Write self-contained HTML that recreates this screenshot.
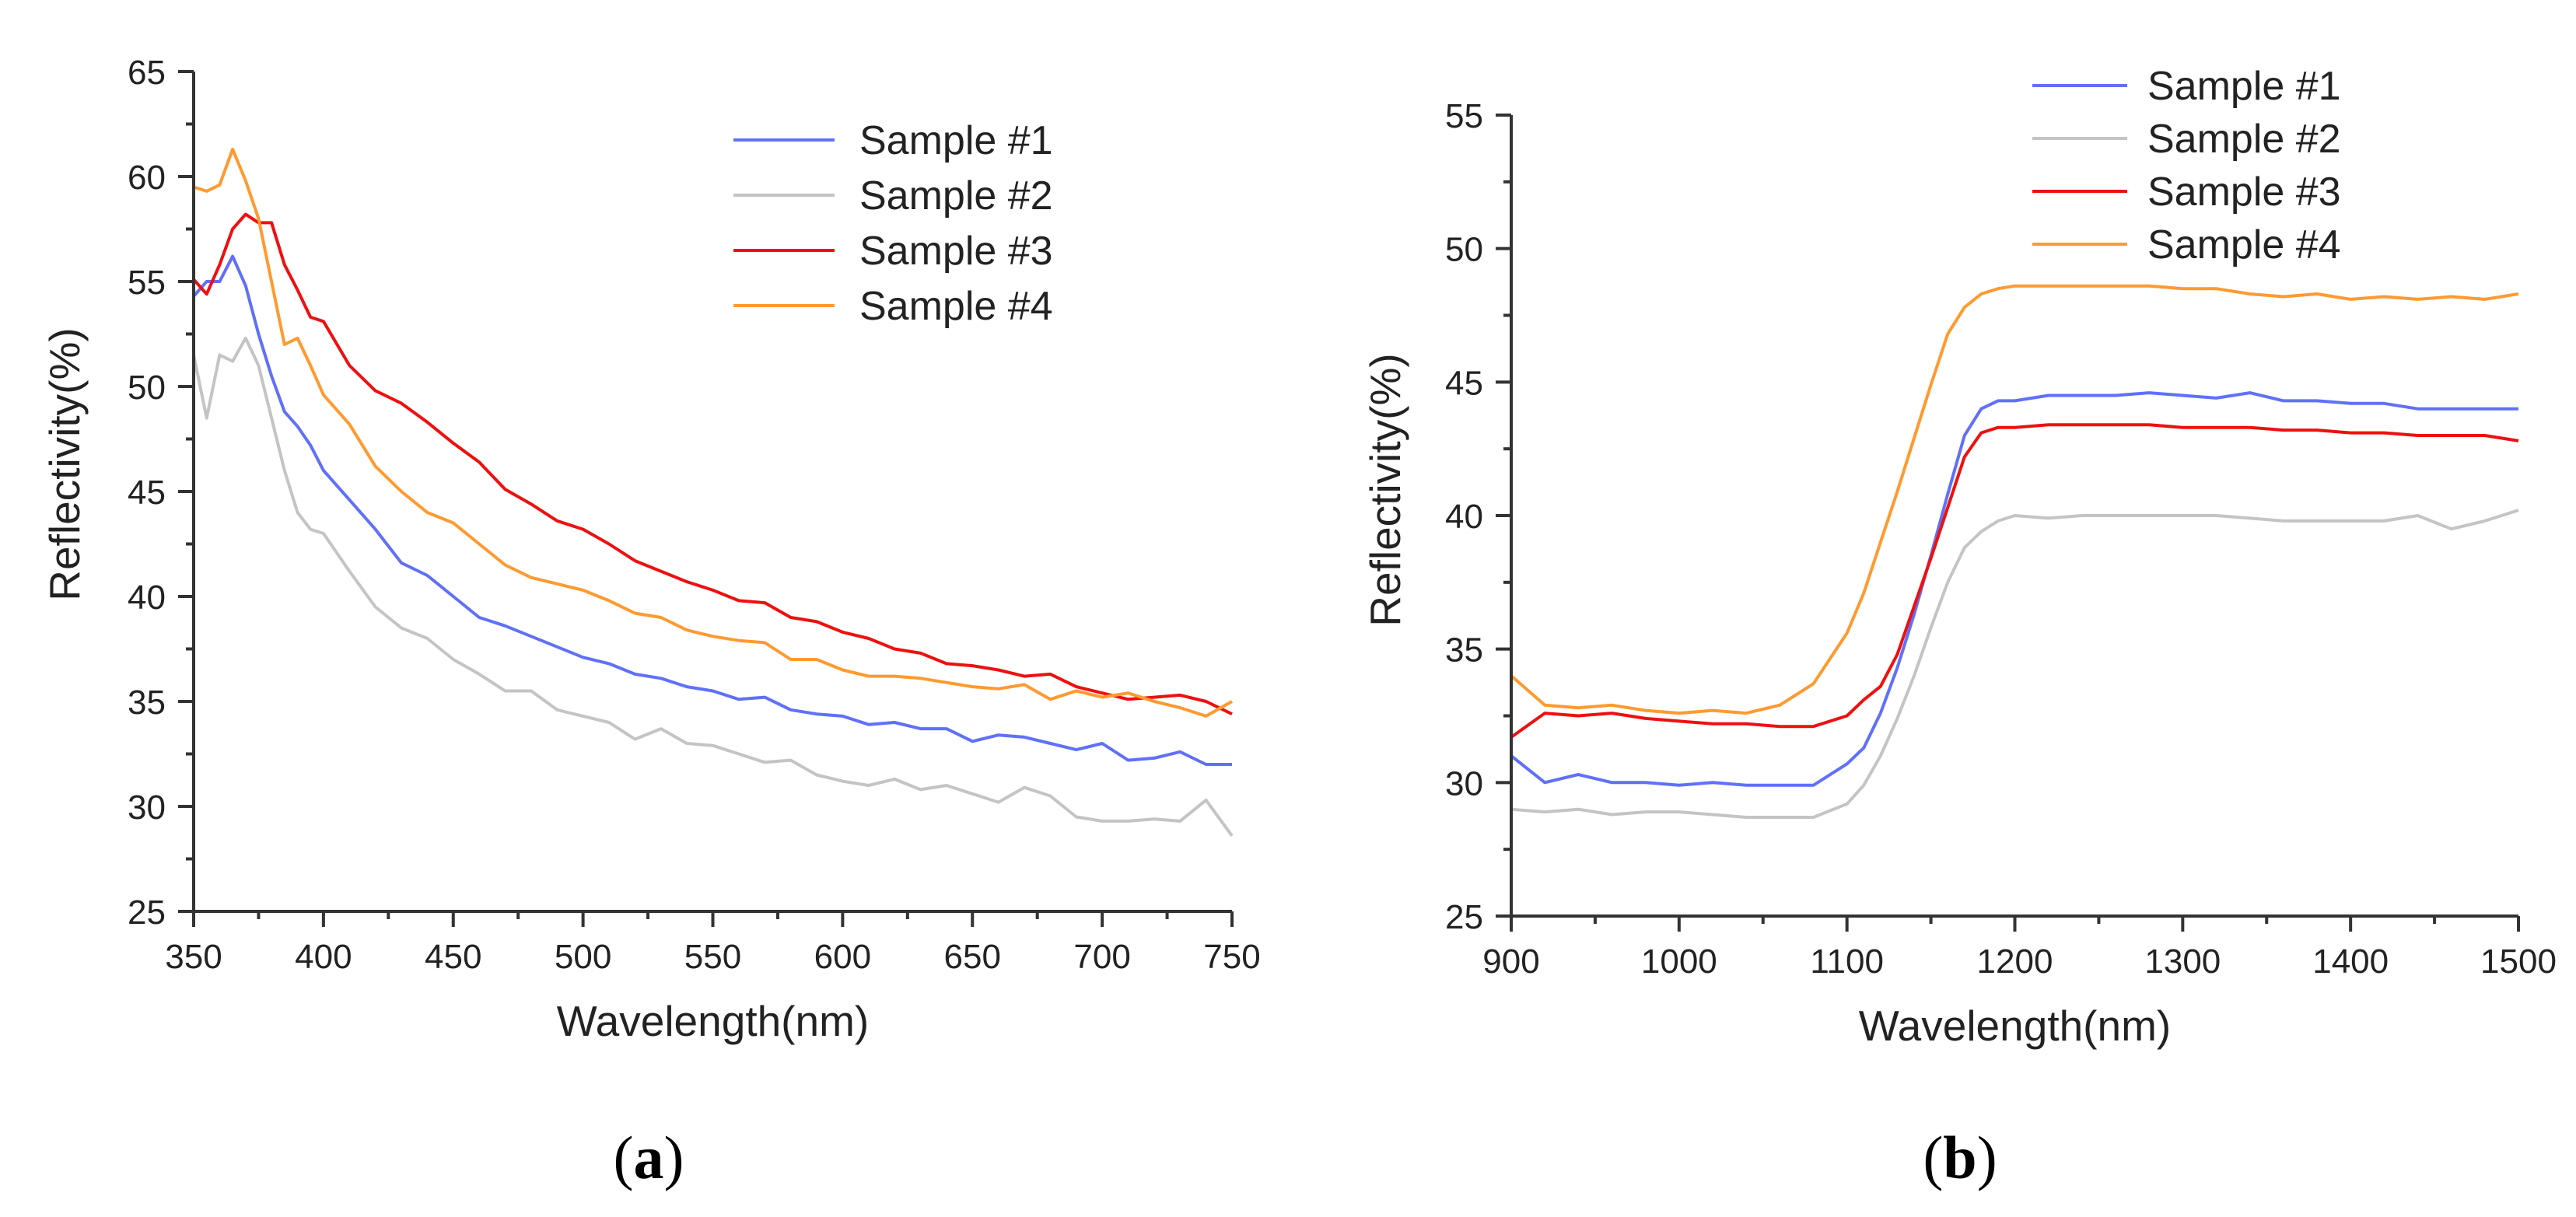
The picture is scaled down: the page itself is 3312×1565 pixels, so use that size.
<!DOCTYPE html>
<html><head><meta charset="utf-8"><style>
html,body{margin:0;padding:0;background:#fff;}
svg{display:block;font-family:"Liberation Sans",Arial,sans-serif;}
</style></head><body>
<svg id="fig" width="3312" height="1565" viewBox="0 0 3312 1565" xmlns="http://www.w3.org/2000/svg">
<g id="pa"></g>
<g id="pb"></g>
<text x="834" y="1515" font-family="Liberation Serif,serif" font-size="78" text-anchor="middle">(<tspan font-weight="bold">a</tspan>)</text>
<text x="2520" y="1515" font-family="Liberation Serif,serif" font-size="78" text-anchor="middle">(<tspan font-weight="bold">b</tspan>)</text>
</svg>
<script>
const seriesNames = ["Sample #1","Sample #2","Sample #3","Sample #4"];
const seriesColors = ["#6070f8","#c4c4c4","#ee1010","#ff9a30"];

const waveA = [350,355,360,365,370,375,380,385,390,395,400,410,420,430,440,450,460,470,480,490,500,510,520,530,540,550,560,570,580,590,600,610,620,630,640,650,660,670,680,690,700,710,720,730,740,750];
const a1 = [54.3,55,55,56.2,54.8,52.5,50.5,48.8,48.1,47.2,46,44.6,43.2,41.6,41,40,39,38.6,38.1,37.6,37.1,36.8,36.3,36.1,35.7,35.5,35.1,35.2,34.6,34.4,34.3,33.9,34,33.7,33.7,33.1,33.4,33.3,33,32.7,33,32.2,32.3,32.6,32,32];
const a2 = [51.5,48.5,51.5,51.2,52.3,51,48.5,46,44,43.2,43,41.2,39.5,38.5,38,37,36.3,35.5,35.5,34.6,34.3,34,33.2,33.7,33,32.9,32.5,32.1,32.2,31.5,31.2,31,31.3,30.8,31,30.6,30.2,30.9,30.5,29.5,29.3,29.3,29.4,29.3,30.3,28.6];
const a3 = [55.1,54.4,55.8,57.5,58.2,57.8,57.8,55.8,54.6,53.3,53.1,51,49.8,49.2,48.3,47.3,46.4,45.1,44.4,43.6,43.2,42.5,41.7,41.2,40.7,40.3,39.8,39.7,39,38.8,38.3,38,37.5,37.3,36.8,36.7,36.5,36.2,36.3,35.7,35.4,35.1,35.2,35.3,35,34.4];
const a4 = [59.5,59.3,59.6,61.3,59.8,58,55,52,52.3,51,49.6,48.2,46.2,45,44,43.5,42.5,41.5,40.9,40.6,40.3,39.8,39.2,39,38.4,38.1,37.9,37.8,37,37,36.5,36.2,36.2,36.1,35.9,35.7,35.6,35.8,35.1,35.5,35.2,35.4,35,34.7,34.3,35];
const xTicksA = [350,400,450,500,550,600,650,700,750];
const yTicksA = [25,30,35,40,45,50,55,60,65];

const waveB = [900,920,940,960,980,1000,1020,1040,1060,1080,1100,1110,1120,1130,1140,1150,1160,1170,1180,1190,1200,1220,1240,1260,1280,1300,1320,1340,1360,1380,1400,1420,1440,1460,1480,1500];
const b1 = [31,30,30.3,30,30,29.9,30,29.9,29.9,29.9,30.7,31.3,32.6,34.3,36.3,38.5,40.8,43,44,44.3,44.3,44.5,44.5,44.5,44.6,44.5,44.4,44.6,44.3,44.3,44.2,44.2,44,44,44,44];
const b2 = [29,28.9,29,28.8,28.9,28.9,28.8,28.7,28.7,28.7,29.2,29.9,31,32.4,34,35.8,37.5,38.8,39.4,39.8,40,39.9,40,40,40,40,40,39.9,39.8,39.8,39.8,39.8,40,39.5,39.8,40.2];
const b3 = [31.7,32.6,32.5,32.6,32.4,32.3,32.2,32.2,32.1,32.1,32.5,33.1,33.6,34.8,36.6,38.4,40.3,42.2,43.1,43.3,43.3,43.4,43.4,43.4,43.4,43.3,43.3,43.3,43.2,43.2,43.1,43.1,43,43,43,42.8];
const b4 = [34,32.9,32.8,32.9,32.7,32.6,32.7,32.6,32.9,33.7,35.6,37.1,39,40.9,42.9,44.9,46.8,47.8,48.3,48.5,48.6,48.6,48.6,48.6,48.6,48.5,48.5,48.3,48.2,48.3,48.1,48.2,48.1,48.2,48.1,48.3];
const xTicksB = [900,1000,1100,1200,1300,1400,1500];
const yTicksB = [25,30,35,40,45,50,55];

const NS="http://www.w3.org/2000/svg";
function mk(parent,tag,attrs){const e=document.createElementNS(NS,tag);for(const k in attrs)e.setAttribute(k,attrs[k]);parent.appendChild(e);return e;}

function panel(g,cfg){
  const sx=v=>cfg.x0+(v-cfg.xmin)/(cfg.xmax-cfg.xmin)*(cfg.x1-cfg.x0);
  const sy=v=>cfg.y0-(v-cfg.ymin)/(cfg.ymax-cfg.ymin)*(cfg.y0-cfg.y1);
  // series
  cfg.series.forEach((vals,i)=>{
    const d=vals.map((v,j)=>(j?"L":"M")+sx(cfg.wave[j]).toFixed(1)+","+sy(v).toFixed(1)).join("");
    const p=mk(g,"path",{d:d,fill:"none",stroke:seriesColors[i],"stroke-width":4,"stroke-linejoin":"round"});
    
    
  });
  // axes
  const ax=mk(g,"path",{d:`M${cfg.x0},${cfg.y1}V${cfg.y0}H${cfg.x1}`,fill:"none",stroke:"#333","stroke-width":4});
  
  
  const xs=cfg.xTicks, ys=cfg.yTicks;
  for(let i=0;i<xs.length;i++){
    const x=sx(xs[i]);
    const t=mk(g,"line",{x1:x,x2:x,y1:cfg.y0,y2:cfg.y0+20,stroke:"#333","stroke-width":4});
    
    
    if(i<xs.length-1){const xm=sx((xs[i]+xs[i+1])/2);
      const m=mk(g,"line",{x1:xm,x2:xm,y1:cfg.y0,y2:cfg.y0+10,stroke:"#333","stroke-width":4});
      
      }
    const l=mk(g,"text",{x:x,y:cfg.y0+73,"font-size":44,"text-anchor":"middle",fill:"#222"});l.textContent=xs[i];
    
    
  }
  for(let i=0;i<ys.length;i++){
    const y=sy(ys[i]);
    const t=mk(g,"line",{x1:cfg.x0-20,x2:cfg.x0,y1:y,y2:y,stroke:"#333","stroke-width":4});
    
    
    if(i<ys.length-1){const ym=sy((ys[i]+ys[i+1])/2);
      const m=mk(g,"line",{x1:cfg.x0-10,x2:cfg.x0,y1:ym,y2:ym,stroke:"#333","stroke-width":4});
      
      }
    const l=mk(g,"text",{x:cfg.x0-36,y:y+16,"font-size":44,"text-anchor":"end",fill:"#222"});l.textContent=ys[i];
    
    
  }
  const xt=mk(g,"text",{x:(cfg.x0+cfg.x1)/2,y:cfg.y0+160,"font-size":55,"text-anchor":"middle",fill:"#222"});xt.textContent="Wavelength(nm)";
  
  
  const yt=mk(g,"text",{x:0,y:0,"font-size":55,"text-anchor":"middle",fill:"#222",transform:`translate(${cfg.ytx},${cfg.yty}) rotate(-90)`});yt.textContent="Reflectivity(%)";
  
  
  // legend
  seriesNames.forEach((n,i)=>{
    const y=cfg.legY[i];
    const ln=mk(g,"line",{x1:cfg.legX0,x2:cfg.legX1,y1:y,y2:y,stroke:seriesColors[i],"stroke-width":4});
    
    
    const tx=mk(g,"text",{x:cfg.legTx,y:y+18,"font-size":52,fill:"#222"});tx.textContent=n;
    
    
  });
}

panel(document.getElementById("pa"),{x0:249,x1:1584,y0:1172,y1:92,xmin:350,xmax:750,ymin:25,ymax:65,
  wave:waveA,series:[a1,a2,a3,a4],xTicks:xTicksA,yTicks:yTicksA,ytx:102,yty:597,
  legX0:943,legX1:1073,legTx:1105,legY:[180,251,322,393]});
panel(document.getElementById("pb"),{x0:1943,x1:3238,y0:1178,y1:148,xmin:900,xmax:1500,ymin:25,ymax:55,
  wave:waveB,series:[b1,b2,b3,b4],xTicks:xTicksB,yTicks:yTicksB,ytx:1800,yty:630,
  legX0:2613,legX1:2735,legTx:2761,legY:[110,178,246,314]});
</script>
</body></html>
